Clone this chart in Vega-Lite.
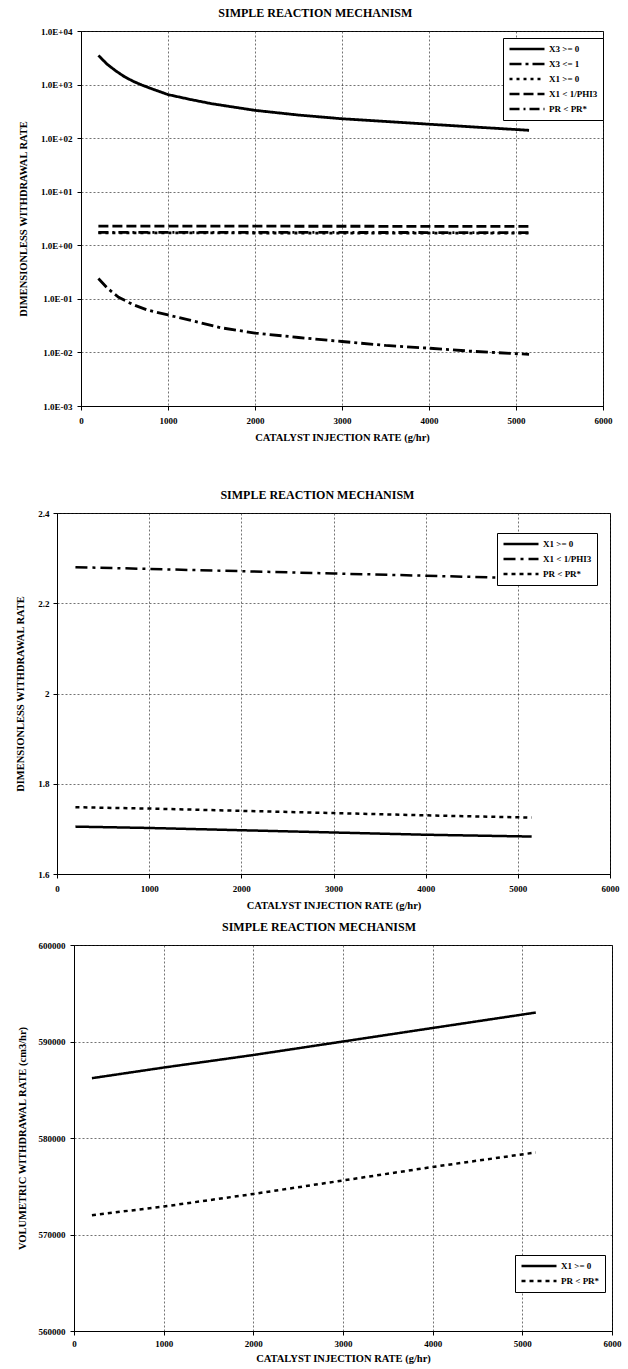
{
  "$schema": "https://vega.github.io/schema/vega-lite/v6.json",
  "background": "white",
  "padding": {"left": 14, "top": 6, "right": 0, "bottom": 0},
  "spacing": 45,
  "config": {
    "font": "Liberation Serif",
    "view": {"stroke": "black", "strokeWidth": 1},
    "axis": {
      "labelFont": "Liberation Serif", "labelFontWeight": "bold", "labelFontSize": 9, "labelColor": "black",
      "titleFont": "Liberation Serif", "titleFontWeight": "bold", "titleFontSize": 10.5, "titleColor": "black",
      "domainColor": "black", "tickColor": "black", "tickSize": 4,
      "gridColor": "#222", "gridDash": [2, 2], "gridWidth": 0.8, "gridOpacity": 0.8
    },
    "axisX": {"labelPadding": 6, "titlePadding": 7, "labelFlush": false},
    "title": {"font": "Liberation Serif", "fontSize": 12, "fontWeight": "bold", "color": "black", "frame": "bounds", "offset": 7},
    "legend": {
      "title": null, "symbolType": "stroke", "symbolSize": 1225, "symbolStrokeWidth": 2.5, "symbolStrokeColor": "black",
      "labelFont": "Liberation Serif", "labelFontWeight": "bold", "labelFontSize": 9, "labelColor": "black", "labelAlign": "left",
      "strokeColor": "black", "fillColor": "white", "padding": 5, "rowPadding": 3, "labelOffset": 3, "clipHeight": 12
    }
  },
  "datasets": {
    "p1": [
      {"s": "X3 >= 0", "x": 200, "y": 3500}, {"s": "X3 >= 0", "x": 300, "y": 2400}, {"s": "X3 >= 0", "x": 400, "y": 1800},
      {"s": "X3 >= 0", "x": 500, "y": 1400}, {"s": "X3 >= 0", "x": 600, "y": 1150}, {"s": "X3 >= 0", "x": 700, "y": 980},
      {"s": "X3 >= 0", "x": 800, "y": 850}, {"s": "X3 >= 0", "x": 1000, "y": 650}, {"s": "X3 >= 0", "x": 1250, "y": 530},
      {"s": "X3 >= 0", "x": 1500, "y": 440}, {"s": "X3 >= 0", "x": 2000, "y": 330}, {"s": "X3 >= 0", "x": 2500, "y": 270},
      {"s": "X3 >= 0", "x": 3000, "y": 230}, {"s": "X3 >= 0", "x": 3500, "y": 205}, {"s": "X3 >= 0", "x": 4000, "y": 182},
      {"s": "X3 >= 0", "x": 4500, "y": 162}, {"s": "X3 >= 0", "x": 5150, "y": 140},
      {"s": "X3 <= 1", "x": 200, "y": 0.24}, {"s": "X3 <= 1", "x": 300, "y": 0.16}, {"s": "X3 <= 1", "x": 433, "y": 0.107},
      {"s": "X3 <= 1", "x": 600, "y": 0.078}, {"s": "X3 <= 1", "x": 763, "y": 0.062}, {"s": "X3 <= 1", "x": 1000, "y": 0.05},
      {"s": "X3 <= 1", "x": 1250, "y": 0.04}, {"s": "X3 <= 1", "x": 1600, "y": 0.029}, {"s": "X3 <= 1", "x": 2000, "y": 0.023},
      {"s": "X3 <= 1", "x": 2500, "y": 0.019}, {"s": "X3 <= 1", "x": 3000, "y": 0.016}, {"s": "X3 <= 1", "x": 3500, "y": 0.0135},
      {"s": "X3 <= 1", "x": 4000, "y": 0.012}, {"s": "X3 <= 1", "x": 4500, "y": 0.0105}, {"s": "X3 <= 1", "x": 5150, "y": 0.0092},
      {"s": "X1 >= 0", "x": 200, "y": 1.705}, {"s": "X1 >= 0", "x": 1000, "y": 1.702}, {"s": "X1 >= 0", "x": 2000, "y": 1.697},
      {"s": "X1 >= 0", "x": 3000, "y": 1.692}, {"s": "X1 >= 0", "x": 4000, "y": 1.687}, {"s": "X1 >= 0", "x": 5150, "y": 1.683},
      {"s": "X1 < 1/PHI3", "x": 200, "y": 2.28}, {"s": "X1 < 1/PHI3", "x": 1000, "y": 2.276}, {"s": "X1 < 1/PHI3", "x": 2000, "y": 2.271},
      {"s": "X1 < 1/PHI3", "x": 3000, "y": 2.266}, {"s": "X1 < 1/PHI3", "x": 4000, "y": 2.261}, {"s": "X1 < 1/PHI3", "x": 5150, "y": 2.255},
      {"s": "PR < PR*", "x": 200, "y": 1.748}, {"s": "PR < PR*", "x": 1000, "y": 1.745}, {"s": "PR < PR*", "x": 2000, "y": 1.74},
      {"s": "PR < PR*", "x": 3000, "y": 1.735}, {"s": "PR < PR*", "x": 4000, "y": 1.73}, {"s": "PR < PR*", "x": 5150, "y": 1.725}
    ],
    "p3": [
      {"s": "X1 >= 0", "x": 200, "y": 586200}, {"s": "X1 >= 0", "x": 1000, "y": 587300}, {"s": "X1 >= 0", "x": 2000, "y": 588600},
      {"s": "X1 >= 0", "x": 3000, "y": 590000}, {"s": "X1 >= 0", "x": 4000, "y": 591400}, {"s": "X1 >= 0", "x": 5150, "y": 593000},
      {"s": "PR < PR*", "x": 200, "y": 572000}, {"s": "PR < PR*", "x": 1000, "y": 572900}, {"s": "PR < PR*", "x": 2000, "y": 574200},
      {"s": "PR < PR*", "x": 3000, "y": 575600}, {"s": "PR < PR*", "x": 4000, "y": 577000}, {"s": "PR < PR*", "x": 5150, "y": 578500}
    ],
    "empty": []
  },
  "resolve": {"scale": {"strokeDash": "independent", "x": "independent", "y": "independent"}, "legend": {"strokeDash": "independent"}},
  "vconcat": [
    {
      "spacing": 0,
      "hconcat": [
        {"width": 4, "height": 1, "data": {"name": "empty"}, "mark": {"type": "point", "opacity": 0}, "view": {"stroke": null}},
        {
          "width": 522, "height": 375,
          "title": "SIMPLE REACTION MECHANISM",
          "data": {"name": "p1"},
          "mark": {"type": "line", "color": "black", "strokeWidth": 2.8},
          "encoding": {
            "x": {"field": "x", "type": "quantitative", "scale": {"domain": [0, 6000]},
                  "axis": {"values": [0, 1000, 2000, 3000, 4000, 5000, 6000], "format": "d", "title": "CATALYST INJECTION RATE (g/hr)"}},
            "y": {"field": "y", "type": "quantitative", "scale": {"type": "log", "domain": [0.001, 10000]},
                  "axis": {"values": [0.001, 0.01, 0.1, 1, 10, 100, 1000, 10000], "labelPadding": 5, "titlePadding": 12,
                           "labelExpr": "'1.0E' + (datum.value >= 1 ? '+' : '-') + '0' + abs(round(log(datum.value) / LN10))",
                           "title": "DIMENSIONLESS WITHDRAWAL RATE"}},
            "strokeDash": {"field": "s", "type": "nominal",
                           "scale": {"domain": ["X3 >= 0", "X3 <= 1", "X1 >= 0", "X1 < 1/PHI3", "PR < PR*"],
                                     "range": [[1, 0], [12, 4, 3, 4], [3, 4], [10, 4], [10, 4, 2, 4]]},
                           "legend": {"orient": "none", "legendX": 489, "legendY": 7}},
            "order": {"field": "x", "type": "quantitative"}
          }
        }
      ]
    },
    {
      "spacing": 9,
      "resolve": {"scale": {"strokeDash": "independent", "x": "independent", "y": "independent"}, "legend": {"strokeDash": "independent"}},
      "vconcat": [
        {
          "spacing": 0,
          "hconcat": [
            {"width": 1, "height": 1, "data": {"name": "empty"}, "mark": {"type": "point", "opacity": 0}, "view": {"stroke": null}},
            {
              "width": 553, "height": 361,
              "title": "SIMPLE REACTION MECHANISM",
              "data": {"name": "p1"},
              "transform": [{"filter": {"field": "s", "oneOf": ["X1 >= 0", "X1 < 1/PHI3", "PR < PR*"]}}],
              "mark": {"type": "line", "color": "black", "strokeWidth": 2.5},
              "encoding": {
                "x": {"field": "x", "type": "quantitative", "scale": {"domain": [0, 6000]},
                      "axis": {"values": [0, 1000, 2000, 3000, 4000, 5000, 6000], "format": "d", "title": "CATALYST INJECTION RATE (g/hr)"}},
                "y": {"field": "y", "type": "quantitative", "scale": {"domain": [1.6, 2.4], "zero": false},
                      "axis": {"values": [1.6, 1.8, 2, 2.2, 2.4], "format": "~g", "labelPadding": 4, "titlePadding": 12, "title": "DIMENSIONLESS WITHDRAWAL RATE"}},
                "strokeDash": {"field": "s", "type": "nominal",
                               "scale": {"domain": ["X1 >= 0", "X1 < 1/PHI3", "PR < PR*"],
                                         "range": [[1, 0], [12, 5, 3, 5], [4, 4]]},
                               "legend": {"orient": "none", "legendX": 483, "legendY": 20}},
                "order": {"field": "x", "type": "quantitative"}
              }
            }
          ]
        },
        {
          "spacing": 0,
          "hconcat": [
            {"width": 2, "height": 1, "data": {"name": "empty"}, "mark": {"type": "point", "opacity": 0}, "view": {"stroke": null}},
            {
              "width": 538, "height": 386,
              "title": "SIMPLE REACTION MECHANISM",
              "data": {"name": "p3"},
              "mark": {"type": "line", "color": "black", "strokeWidth": 2.5},
              "encoding": {
                "x": {"field": "x", "type": "quantitative", "scale": {"domain": [0, 6000]},
                      "axis": {"values": [0, 1000, 2000, 3000, 4000, 5000, 6000], "format": "d", "labelPadding": 4, "titlePadding": 5, "title": "CATALYST INJECTION RATE (g/hr)"}},
                "y": {"field": "y", "type": "quantitative", "scale": {"domain": [560000, 600000], "zero": false},
                      "axis": {"values": [560000, 570000, 580000, 590000, 600000], "format": "d", "labelPadding": 5, "titlePadding": 11, "title": "VOLUMETRIC WITHDRAWAL RATE (cm3/hr)"}},
                "strokeDash": {"field": "s", "type": "nominal",
                               "scale": {"domain": ["X1 >= 0", "PR < PR*"], "range": [[1, 0], [4, 4]]},
                               "legend": {"orient": "none", "legendX": 501, "legendY": 310}},
                "order": {"field": "x", "type": "quantitative"}
              }
            }
          ]
        }
      ]
    }
  ]
}
